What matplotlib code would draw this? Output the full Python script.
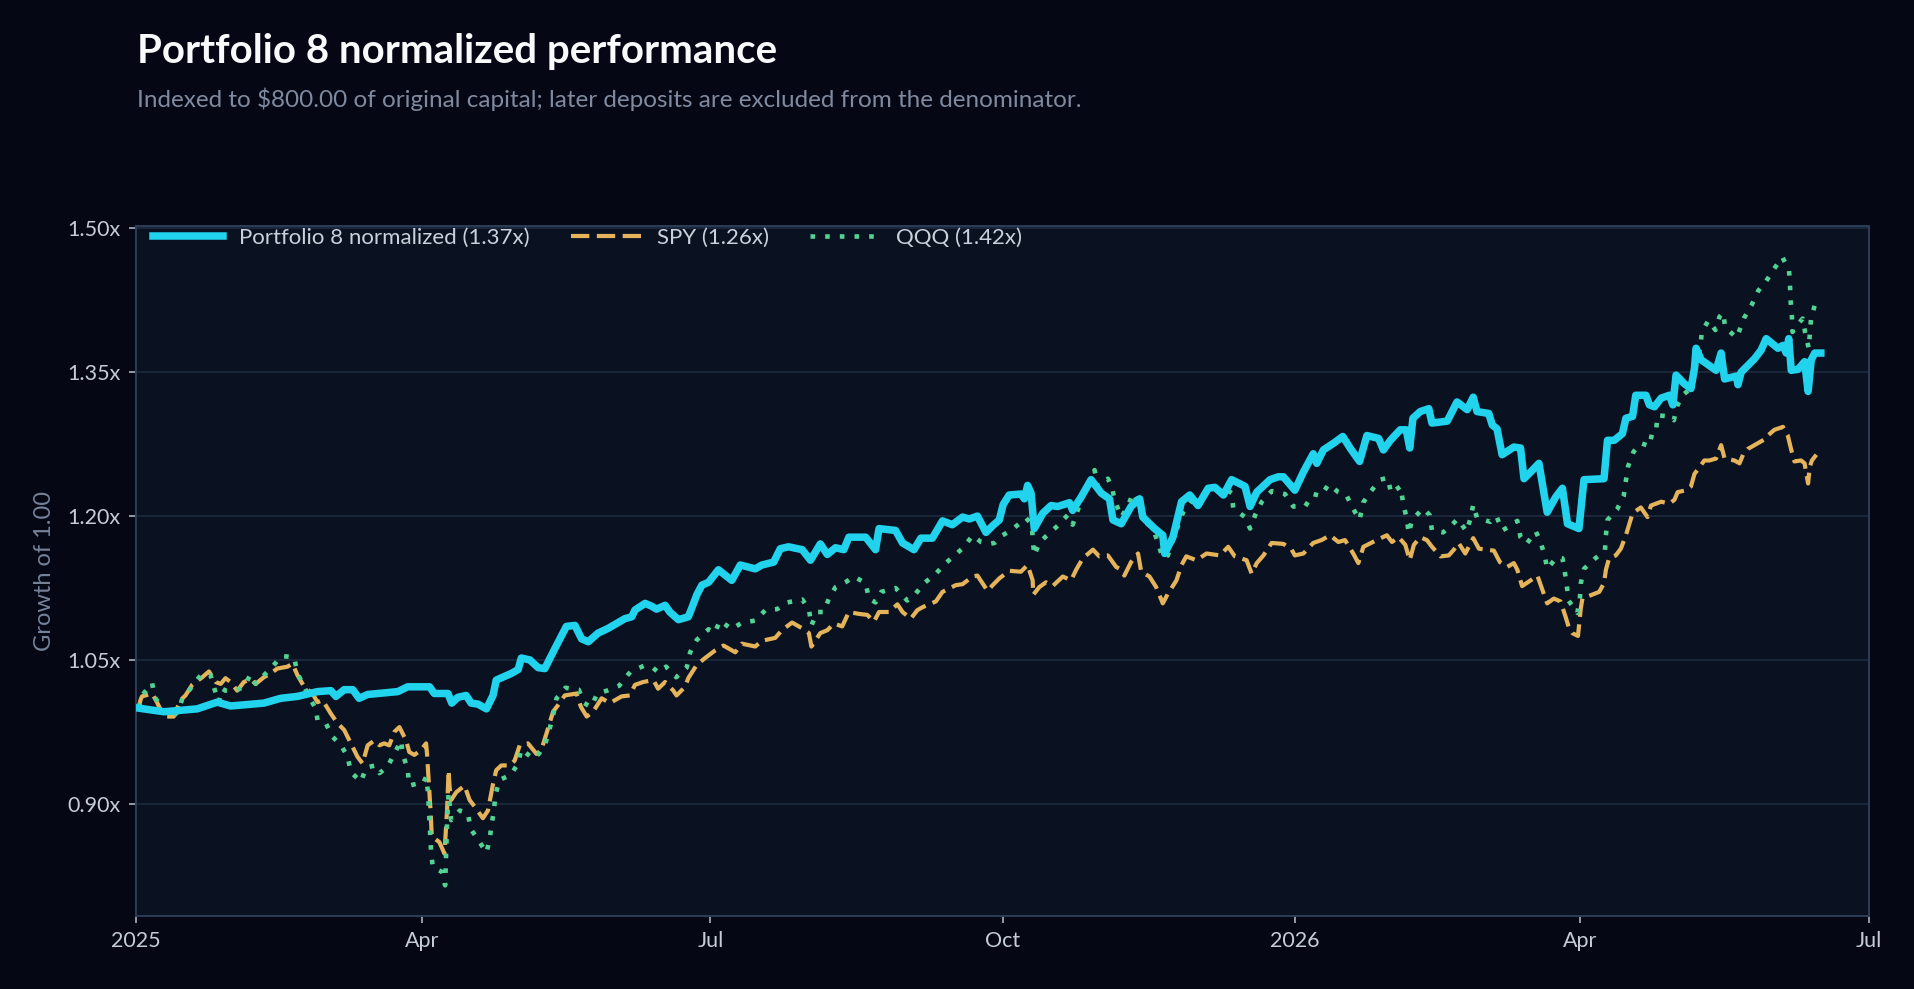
import numpy as np
import matplotlib
matplotlib.use('Agg')
import matplotlib.pyplot as plt
import matplotlib.dates as mdates
from matplotlib.ticker import FuncFormatter
import pandas as pd

# data: days since 2025-01-01 and growth-of-1 values
start = pd.Timestamp('2025-01-01')

port_days = [0.3, 8.8, 19.3, 25.6, 29.8, 40.3, 45.6, 50.9, 57.2, 61.4,
	63.0, 65.6, 68.3, 70.3, 73.0, 82.5, 85.6, 89.8, 92.5, 94.0,
	98.3, 99.5, 101.4, 104.0, 105.6, 107.7, 110.4, 112.5, 113.5, 118.3,
	120.4, 121.4, 124.1, 126.7, 128.8, 132.0, 135.6, 138.3, 140.4, 142.5,
	145.6, 148.8, 150.9, 154.0, 156.2, 157.2, 160.4, 162.5, 164.0, 166.7,
	168.2, 170.9, 174.0, 175.1, 176.7, 178.3, 180.4, 183.5, 187.7, 190.4,
	195.1, 197.2, 200.9, 203.0, 205.6, 209.9, 212.5, 215.6, 217.8, 220.4,
	223.0, 224.6, 229.9, 233.0, 234.1, 239.3, 241.5, 245.1, 247.3, 250.9,
	254.1, 257.2, 260.4, 262.5, 265.1, 267.8, 269.9, 272.0, 273.2, 275.1,
	278.8, 279.9, 280.9, 282.0, 283.0, 285.7, 288.3, 290.4, 294.1, 295.1,
	297.8, 300.9, 304.1, 306.7, 307.8, 310.4, 313.5, 316.2, 317.2, 320.9,
	323.5, 324.1, 326.7, 329.4, 332.0, 334.6, 337.8, 339.9, 342.6, 345.2,
	349.4, 351.0, 353.1, 357.3, 359.9, 361.5, 365.1, 367.8, 370.9, 372.0,
	374.1, 377.3, 380.2, 382.5, 385.5, 387.8, 391.5, 393.0, 395.2, 398.3,
	400.2, 401.3, 402.3, 404.6, 407.3, 408.3, 413.1, 416.2, 419.4, 421.3,
	422.5, 426.2, 427.3, 428.8, 430.4, 434.1, 436.2, 437.3, 439.4, 442.0,
	444.6, 447.3, 449.4, 451.0, 454.6, 456.2, 462.5, 463.6, 465.7, 468.3,
	469.4, 471.5, 472.5, 475.7, 476.8, 478.4, 480.5, 483.1, 484.2, 485.2,
	487.8, 489.9, 491.0, 491.5, 493.1, 497.8, 499.4, 500.5, 504.2, 504.7,
	505.7, 509.9, 512.0, 513.6, 517.3, 518.9, 519.9, 520.7, 521.5, 523.6,
	525.7, 526.8, 527.8, 528.9, 530.8]
port_vals = [1.000, 0.996, 0.999, 1.006, 1.002, 1.005, 1.010, 1.012, 1.017, 1.018,
	1.012, 1.019, 1.019, 1.010, 1.014, 1.017, 1.022, 1.022, 1.022, 1.015,
	1.015, 1.005, 1.011, 1.013, 1.005, 1.004, 0.999, 1.013, 1.029, 1.036,
	1.040, 1.052, 1.050, 1.042, 1.041, 1.062, 1.085, 1.086, 1.072, 1.069,
	1.078, 1.083, 1.087, 1.093, 1.095, 1.102, 1.109, 1.106, 1.103, 1.107,
	1.100, 1.092, 1.095, 1.104, 1.118, 1.128, 1.131, 1.144, 1.133, 1.149,
	1.145, 1.149, 1.152, 1.166, 1.168, 1.165, 1.154, 1.171, 1.160, 1.167,
	1.165, 1.178, 1.178, 1.165, 1.187, 1.185, 1.172, 1.165, 1.177, 1.177,
	1.195, 1.191, 1.199, 1.197, 1.200, 1.183, 1.190, 1.196, 1.212, 1.222,
	1.223, 1.218, 1.232, 1.224, 1.187, 1.203, 1.211, 1.210, 1.214, 1.206,
	1.220, 1.238, 1.224, 1.218, 1.196, 1.192, 1.210, 1.218, 1.199, 1.187,
	1.180, 1.161, 1.178, 1.215, 1.222, 1.211, 1.229, 1.230, 1.222, 1.238,
	1.231, 1.210, 1.225, 1.238, 1.241, 1.241, 1.227, 1.246, 1.265, 1.255,
	1.269, 1.276, 1.283, 1.271, 1.257, 1.284, 1.281, 1.269, 1.279, 1.290,
	1.290, 1.271, 1.302, 1.309, 1.312, 1.297, 1.299, 1.319, 1.311, 1.324,
	1.309, 1.307, 1.295, 1.291, 1.264, 1.272, 1.271, 1.239, 1.246, 1.255,
	1.204, 1.220, 1.229, 1.192, 1.187, 1.238, 1.239, 1.279, 1.279, 1.286,
	1.302, 1.304, 1.326, 1.326, 1.316, 1.314, 1.323, 1.326, 1.316, 1.347,
	1.338, 1.333, 1.354, 1.375, 1.363, 1.352, 1.370, 1.343, 1.346, 1.337,
	1.350, 1.364, 1.373, 1.385, 1.375, 1.378, 1.370, 1.385, 1.352, 1.353,
	1.361, 1.330, 1.363, 1.370, 1.370]

spy_days = [0.9, 1.4, 1.9, 5.1, 6.6, 8.8, 11.9, 14.0, 15.6, 17.7,
	20.9, 23.0, 25.1, 26.7, 28.2, 29.8, 31.9, 34.0, 36.1, 37.7,
	40.3, 42.5, 44.5, 47.7, 49.3, 50.9, 53.0, 55.6, 57.2, 58.8,
	61.4, 63.5, 65.6, 67.7, 69.8, 71.4, 73.0, 75.1, 76.7, 78.2,
	79.8, 81.4, 83.0, 85.1, 86.1, 87.7, 89.8, 91.4, 91.7, 92.2,
	92.8, 93.2, 95.6, 97.2, 98.0, 98.5, 98.8, 99.3, 100.9, 103.5,
	105.1, 106.7, 109.3, 110.9, 112.5, 113.5, 115.1, 117.7, 119.3, 120.9,
	123.5, 126.2, 127.7, 129.3, 131.4, 133.0, 135.1, 138.8, 140.2, 142.0,
	144.0, 146.7, 149.3, 153.0, 155.6, 157.2, 159.8, 163.0, 164.5, 166.7,
	169.3, 170.3, 173.0, 174.0, 176.7, 179.3, 182.5, 185.1, 188.8, 190.9,
	195.1, 197.2, 201.4, 203.5, 206.7, 209.9, 212.0, 212.8, 215.6, 217.8,
	219.9, 222.5, 224.6, 227.8, 230.4, 232.5, 234.1, 237.2, 239.9, 241.5,
	244.1, 246.2, 247.8, 252.0, 254.1, 258.3, 260.4, 263.6, 265.1, 266.7,
	268.3, 269.9, 272.0, 275.1, 278.8, 280.9, 282.5, 282.7, 284.6, 286.7,
	288.8, 292.0, 294.6, 296.2, 298.3, 301.5, 303.5, 306.2, 308.8, 309.9,
	311.4, 313.5, 315.7, 316.7, 319.3, 321.4, 323.5, 325.1, 327.8, 329.4,
	330.9, 334.1, 337.3, 341.5, 344.1, 346.2, 349.9, 351.5, 353.1, 355.2,
	357.8, 361.5, 364.1, 365.1, 367.8, 370.9, 373.5, 376.2, 378.8, 380.9,
	383.5, 385.1, 386.7, 391.5, 394.1, 395.7, 397.8, 399.9, 401.3, 402.6,
	404.6, 406.7, 408.3, 411.0, 413.6, 415.2, 416.7, 418.8, 421.3, 423.1,
	427.8, 429.7, 432.0, 434.1, 435.2, 436.7, 439.4, 441.5, 443.1, 444.6,
	446.7, 448.8, 450.4, 451.5, 452.5, 454.3, 455.2, 455.7, 461.0, 462.5,
	463.1, 464.1, 466.2, 467.8, 469.4, 471.5, 474.1, 476.2, 477.3, 480.5,
	483.1, 484.7, 485.7, 488.4, 489.9, 491.0, 492.6, 494.1, 495.7, 497.8,
	499.4, 500.5, 503.6, 505.2, 506.3, 507.8, 509.9, 513.6, 514.1, 516.2,
	518.9, 520.4, 521.5, 522.5, 524.6, 525.7, 526.2, 526.8, 527.3, 528.0,
	529.4]
spy_vals = [1.000, 1.008, 1.012, 1.015, 1.006, 0.991, 0.991, 1.008, 1.013, 1.024,
	1.032, 1.038, 1.027, 1.025, 1.031, 1.027, 1.018, 1.027, 1.030, 1.025,
	1.032, 1.036, 1.041, 1.043, 1.046, 1.034, 1.022, 1.015, 1.006, 1.008,
	0.994, 0.984, 0.977, 0.963, 0.949, 0.942, 0.961, 0.966, 0.961, 0.963,
	0.961, 0.975, 0.980, 0.966, 0.954, 0.951, 0.956, 0.963, 0.952, 0.925,
	0.893, 0.866, 0.860, 0.848, 0.893, 0.935, 0.918, 0.904, 0.912, 0.919,
	0.904, 0.897, 0.885, 0.893, 0.921, 0.935, 0.940, 0.940, 0.945, 0.961,
	0.963, 0.952, 0.956, 0.973, 0.996, 1.003, 1.013, 1.015, 1.001, 0.991,
	0.996, 1.010, 1.005, 1.012, 1.013, 1.024, 1.027, 1.029, 1.020, 1.027,
	1.018, 1.013, 1.022, 1.031, 1.045, 1.052, 1.060, 1.065, 1.058, 1.067,
	1.064, 1.070, 1.073, 1.081, 1.089, 1.083, 1.078, 1.064, 1.078, 1.081,
	1.088, 1.085, 1.100, 1.098, 1.097, 1.090, 1.100, 1.100, 1.108, 1.100,
	1.093, 1.102, 1.105, 1.111, 1.121, 1.128, 1.129, 1.137, 1.138, 1.130,
	1.122, 1.128, 1.135, 1.143, 1.142, 1.149, 1.133, 1.118, 1.126, 1.131,
	1.127, 1.137, 1.133, 1.144, 1.156, 1.165, 1.158, 1.159, 1.147, 1.145,
	1.138, 1.152, 1.161, 1.142, 1.137, 1.126, 1.109, 1.119, 1.133, 1.149,
	1.158, 1.154, 1.161, 1.159, 1.168, 1.158, 1.154, 1.140, 1.151, 1.159,
	1.172, 1.171, 1.165, 1.159, 1.161, 1.172, 1.175, 1.180, 1.173, 1.175,
	1.161, 1.151, 1.168, 1.176, 1.180, 1.173, 1.178, 1.170, 1.154, 1.170,
	1.178, 1.175, 1.168, 1.158, 1.159, 1.165, 1.172, 1.161, 1.177, 1.166,
	1.164, 1.152, 1.147, 1.151, 1.144, 1.127, 1.133, 1.138, 1.123, 1.109,
	1.114, 1.111, 1.095, 1.083, 1.078, 1.075, 1.104, 1.114, 1.121, 1.130,
	1.144, 1.156, 1.159, 1.166, 1.180, 1.203, 1.209, 1.199, 1.211, 1.215,
	1.213, 1.217, 1.225, 1.227, 1.231, 1.244, 1.251, 1.258, 1.258, 1.260,
	1.274, 1.260, 1.258, 1.255, 1.264, 1.270, 1.274, 1.281, 1.284, 1.290,
	1.293, 1.284, 1.269, 1.257, 1.258, 1.255, 1.245, 1.234, 1.251, 1.258,
	1.264]

qqq_days = [0.9, 1.9, 5.1, 5.8, 8.2, 11.4, 13.5, 14.6, 15.6, 18.2,
	20.9, 23.5, 24.8, 26.1, 27.2, 28.2, 31.4, 34.0, 36.1, 37.7,
	40.3, 43.0, 45.8, 49.8, 50.9, 53.0, 55.1, 56.7, 57.2, 59.8,
	61.9, 64.6, 66.7, 67.7, 70.9, 72.5, 75.6, 76.7, 79.1, 81.4,
	83.5, 84.1, 85.6, 86.1, 89.8, 90.4, 91.4, 92.0, 92.5, 93.0,
	93.5, 96.4, 97.4, 97.7, 98.0, 98.5, 99.3, 102.0, 104.6, 105.4,
	107.7, 110.4, 111.4, 112.0, 112.8, 113.2, 114.6, 118.0, 120.4, 121.4,
	125.1, 126.9, 129.0, 130.4, 131.4, 132.5, 135.3, 139.5, 141.2, 143.3,
	145.4, 148.4, 152.2, 155.1, 156.0, 160.1, 162.8, 164.6, 167.0, 170.2,
	173.5, 174.6, 176.7, 180.4, 182.3, 184.0, 187.7, 190.9, 195.1, 198.3,
	202.0, 205.2, 209.9, 212.0, 212.8, 214.6, 216.7, 218.3, 220.4, 223.5,
	226.2, 229.9, 230.9, 233.0, 234.8, 239.3, 243.0, 245.6, 248.3, 252.0,
	255.1, 258.3, 260.9, 263.6, 266.2, 268.8, 270.5, 273.0, 275.7, 280.4,
	282.3, 282.5, 283.0, 284.6, 286.7, 290.4, 293.5, 295.1, 296.7, 298.3,
	300.4, 302.0, 303.0, 306.2, 307.5, 308.3, 310.4, 312.5, 314.1, 316.2,
	317.2, 320.4, 322.0, 323.5, 325.1, 326.7, 328.3, 329.9, 332.5, 335.7,
	338.8, 343.0, 345.2, 345.7, 349.4, 351.0, 352.6, 354.7, 357.8, 362.0,
	364.6, 368.3, 370.9, 373.3, 375.7, 378.8, 381.3, 383.4, 385.5, 386.6,
	389.1, 392.0, 394.4, 395.4, 398.4, 399.2, 400.3, 401.0, 402.0, 405.5,
	407.6, 408.3, 411.8, 414.6, 416.4, 419.2, 420.4, 421.3, 422.5, 426.7,
	428.6, 430.4, 432.0, 435.2, 436.2, 438.1, 441.0, 442.4, 443.8, 444.6,
	447.6, 449.4, 450.1, 450.8, 451.3, 454.1, 454.9, 455.2, 456.2, 459.4,
	462.8, 463.1, 463.6, 466.6, 468.7, 469.4, 470.1, 471.8, 474.1, 476.8,
	477.8, 478.9, 479.4, 483.1, 484.5, 485.7, 487.6, 490.2, 491.0, 491.9,
	492.9, 493.3, 495.4, 497.6, 498.9, 500.0, 500.7, 504.2, 505.1, 506.7,
	509.0, 511.1, 513.4, 515.9, 518.7, 520.8, 521.1, 521.3, 521.7, 521.9,
	523.3, 525.1, 525.9, 527.0, 527.7, 528.9]
qqq_vals = [1.000, 1.013, 1.026, 1.012, 0.999, 0.990, 0.997, 1.010, 1.013, 1.025,
	1.036, 1.034, 1.019, 1.006, 1.020, 1.018, 1.018, 1.022, 1.035, 1.025,
	1.034, 1.043, 1.054, 1.053, 1.036, 1.022, 1.008, 0.999, 0.987, 0.984,
	0.970, 0.961, 0.949, 0.933, 0.923, 0.938, 0.940, 0.932, 0.938, 0.952,
	0.966, 0.951, 0.936, 0.919, 0.922, 0.921, 0.928, 0.912, 0.881, 0.849,
	0.834, 0.829, 0.815, 0.846, 0.879, 0.911, 0.883, 0.893, 0.890, 0.874,
	0.863, 0.849, 0.862, 0.878, 0.893, 0.909, 0.925, 0.930, 0.942, 0.957,
	0.947, 0.952, 0.963, 0.979, 0.992, 1.010, 1.021, 1.019, 1.005, 1.001,
	1.015, 1.018, 1.023, 1.035, 1.038, 1.044, 1.042, 1.037, 1.043, 1.032,
	1.042, 1.058, 1.071, 1.082, 1.078, 1.091, 1.082, 1.089, 1.091, 1.102,
	1.103, 1.110, 1.113, 1.103, 1.086, 1.100, 1.100, 1.114, 1.126, 1.131,
	1.137, 1.130, 1.114, 1.110, 1.121, 1.125, 1.112, 1.119, 1.130, 1.140,
	1.151, 1.160, 1.168, 1.180, 1.173, 1.171, 1.172, 1.180, 1.185, 1.198,
	1.191, 1.176, 1.159, 1.172, 1.179, 1.190, 1.201, 1.191, 1.206, 1.222,
	1.236, 1.248, 1.231, 1.239, 1.230, 1.217, 1.199, 1.210, 1.224, 1.211,
	1.196, 1.187, 1.172, 1.156, 1.159, 1.175, 1.190, 1.204, 1.216, 1.218,
	1.228, 1.229, 1.224, 1.208, 1.199, 1.187, 1.201, 1.215, 1.226, 1.223,
	1.210, 1.210, 1.223, 1.221, 1.233, 1.225, 1.222, 1.208, 1.196, 1.214,
	1.226, 1.238, 1.240, 1.224, 1.231, 1.214, 1.198, 1.182, 1.196, 1.208,
	1.201, 1.185, 1.183, 1.191, 1.197, 1.184, 1.197, 1.212, 1.198, 1.194,
	1.200, 1.185, 1.188, 1.195, 1.178, 1.171, 1.184, 1.174, 1.159, 1.145,
	1.157, 1.156, 1.143, 1.127, 1.112, 1.099, 1.114, 1.130, 1.145, 1.155,
	1.164, 1.180, 1.196, 1.207, 1.221, 1.237, 1.252, 1.267, 1.276, 1.273,
	1.289, 1.290, 1.305, 1.304, 1.300, 1.316, 1.327, 1.334, 1.349, 1.364,
	1.377, 1.392, 1.404, 1.394, 1.408, 1.412, 1.397, 1.386, 1.393, 1.407,
	1.420, 1.435, 1.444, 1.457, 1.470, 1.456, 1.440, 1.424, 1.408, 1.392,
	1.399, 1.406, 1.391, 1.375, 1.405, 1.420]

y_ticks = [0.90, 1.05, 1.20, 1.35, 1.50]

# colours
bg = '#050814'
panel = '#0a1221'
edge = '#2c3d57'
grid_c = '#1e2b3f'
cyan = '#22d3ee'
amber = '#e5b45a'
mint = '#52d394'

plt.rcParams['font.family'] = ['Lato', 'DejaVu Sans']

def to_dates(days):
	return start + pd.to_timedelta(np.array(days), unit='D')

hf1 = plt.figure(figsize = (19.15, 9.89), facecolor = bg, dpi = 100)
ax = hf1.add_axes([0.0710, 0.0738, 0.905, 0.6977])
ax.set_facecolor(panel)

ax.plot(to_dates(port_days), port_vals, c = cyan, lw = 5.4, solid_joinstyle = 'round',
	label = 'Portfolio 8 normalized (%.2fx)' % port_vals[-1], zorder = 4)
ax.plot(to_dates(spy_days), spy_vals, c = amber, lw = 3, ls = (0, (4.4, 1.8)),
	label = 'SPY (%.2fx)' % spy_vals[-1], zorder = 3)
ax.plot(to_dates(qqq_days), qqq_vals, c = mint, lw = 3.3, ls = (0, (1, 2.2)),
	label = 'QQQ (%.2fx)' % qqq_vals[-1], zorder = 3)

ax.set_xlim(pd.Timestamp('2025-01-01'), pd.Timestamp('2026-07-01'))
ax.set_ylim(0.783, 1.5025)
ax.set_yticks(y_ticks)
ax.yaxis.set_major_formatter(FuncFormatter(lambda v, p: '%.2fx' % v))
ax.xaxis.set_major_locator(mdates.MonthLocator(bymonth = [1, 4, 7, 10]))

def month_fmt(x, pos):
	d = mdates.num2date(x)
	return str(d.year) if d.month == 1 else d.strftime('%b')

ax.xaxis.set_major_formatter(FuncFormatter(month_fmt))

ax.grid(axis = 'y', color = grid_c, lw = 1.2)
ax.set_axisbelow(True)
for s in ax.spines.values():
	s.set_color(edge)
	s.set_linewidth(1.4)
ax.tick_params(colors = '#c5ccd8', labelsize = 15.5, length = 5, width = 1.2, pad = 6)
ax.tick_params(axis = 'both', color = '#aab3c2')

ax.set_ylabel('Growth of 1.00', color = '#75829a', fontsize = 17)
ax.yaxis.set_label_coords(-0.047, 0.5)

leg = ax.legend(loc = 'upper left', bbox_to_anchor = (0.0098, 0.997), ncol = 3, frameon = False,
	fontsize = 16, handlelength = 3.15, handletextpad = 0.72, columnspacing = 1.85,
	borderaxespad = 0, borderpad = 0, labelcolor = '#c9d1dc')

hf1.text(0.0715, 0.936, 'Portfolio 8 normalized performance', color = '#f8fafc',
	fontsize = 29, fontweight = 'bold', va = 'baseline')
hf1.text(0.0715, 0.892, 'Indexed to $800.00 of original capital; later deposits are excluded from the denominator.',
	color = '#7f8aa0', fontsize = 17.5, va = 'baseline')

hf1.savefig('out.png', facecolor = bg)
plt.close(hf1)
